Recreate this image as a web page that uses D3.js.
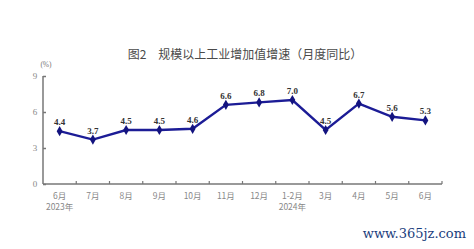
<!DOCTYPE html>
<html>
<head>
<meta charset="utf-8">
<script src="https://cdn.jsdelivr.net/npm/d3@7"></script>
<style>
body { margin:0; background:#fff; }
</style>
</head>
<body>
<svg id="chart" width="474" height="249"></svg>
<script>
// data
var months = ['6月','7月','8月','9月','10月','11月','12月','1-2月','3月','4月','5月','6月'];
var yearLabels = ['2023年','','','','','','','2024年','','','',''];
var growth = [4.4, 3.7, 4.5, 4.5, 4.6, 6.6, 6.8, 7.0, 4.5, 6.7, 5.6, 5.3];
var yTicks = [0, 3, 6, 9];

var svg = d3.select('#chart');
var plotLeft = 43, plotRight = 442, plotTop = 76, plotBottom = 184;

var x = d3.scaleBand().domain(d3.range(months.length)).range([plotLeft, plotRight]);
var y = d3.scaleLinear().domain([0, 9]).range([plotBottom, plotTop]);

// title
svg.append('text')
	.attr('x', 245).attr('y', 59)
	.attr('text-anchor', 'middle')
	.style('font-family', 'Noto Sans CJK SC')
	.style('font-size', '12px')
	.attr('fill', '#4a4a4a')
	.text('图2　规模以上工业增加值增速（月度同比）');

svg.append('text')
	.attr('x', 46).attr('y', 67)
	.attr('text-anchor', 'middle')
	.style('font-family', 'Liberation Serif')
	.style('font-size', '7.5px')
	.attr('fill', '#777')
	.text('(%)');

// y axis
var yAxis = svg.append('g')
	.attr('transform', 'translate(' + plotLeft + ',0)')
	.call(d3.axisRight(y).tickValues(yTicks).tickSize(3).tickFormat(''));
yAxis.select('.domain').attr('d', 'M0,' + plotTop + 'V' + plotBottom);
yAxis.selectAll('line, path').attr('stroke', '#777').attr('stroke-width', 1.5);

svg.selectAll('.ylab').data(yTicks).enter()
	.append('text')
	.attr('x', 35).attr('y', function(d){ return y(d) + 3; })
	.attr('text-anchor', 'middle')
	.style('font-family', 'Liberation Serif')
	.style('font-size', '9px')
	.attr('fill', '#888')
	.text(function(d){ return d; });

// x axis
var xEdges = d3.range(months.length + 1).map(function(i){ return plotLeft + i * x.step(); });
var xAxis = svg.append('g')
	.attr('transform', 'translate(0,' + plotBottom + ')');
xAxis.append('path')
	.attr('d', 'M' + plotLeft + ',0H' + plotRight)
	.attr('stroke', '#777').attr('stroke-width', 1.5);
xAxis.selectAll('line').data(xEdges.slice(1)).enter()
	.append('line')
	.attr('x1', function(d){ return d; }).attr('x2', function(d){ return d; })
	.attr('y1', 0).attr('y2', -3)
	.attr('stroke', '#777').attr('stroke-width', 1.2);

svg.selectAll('.xlab').data(months).enter()
	.append('text')
	.attr('x', function(d, i){ return x(i) + x.bandwidth() / 2; })
	.attr('y', 199)
	.attr('text-anchor', 'middle')
	.style('font-family', 'Noto Sans CJK SC')
	.style('font-size', '8.5px')
	.attr('fill', '#888')
	.text(function(d){ return d; });

svg.selectAll('.ylabyear').data(yearLabels).enter()
	.append('text')
	.attr('x', function(d, i){ return x(i) + x.bandwidth() / 2; })
	.attr('y', 210)
	.attr('text-anchor', 'middle')
	.style('font-family', 'Noto Sans CJK SC')
	.style('font-size', '8.5px')
	.attr('fill', '#888')
	.text(function(d){ return d; });

// line
var line = d3.line()
	.x(function(d, i){ return x(i) + x.bandwidth() / 2; })
	.y(function(d){ return y(d); });

svg.append('path')
	.datum(growth)
	.attr('d', line)
	.attr('fill', 'none')
	.attr('stroke', '#1c1c96')
	.attr('stroke-width', 2.4);

svg.selectAll('.pt').data(growth).enter()
	.append('path')
	.attr('d', d3.symbol().type(d3.symbolDiamond).size(30))
	.attr('transform', function(d, i){ return 'translate(' + (x(i) + x.bandwidth() / 2) + ',' + y(d) + ')'; })
	.attr('fill', '#13137f');

svg.selectAll('.val').data(growth).enter()
	.append('text')
	.attr('x', function(d, i){ return x(i) + x.bandwidth() / 2; })
	.attr('y', function(d){ return y(d) - 6; })
	.attr('text-anchor', 'middle')
	.style('font-family', 'Liberation Serif')
	.style('font-weight', 'bold')
	.style('font-size', '9px')
	.attr('fill', '#333')
	.text(function(d){ return d.toFixed(1); });

// watermark
svg.append('text')
	.attr('x', 466).attr('y', 238)
	.attr('text-anchor', 'end')
	.style('font-family', 'DejaVu Serif')
	.style('font-size', '13px')
	.attr('fill', '#1a3d7c')
	.text('www.365jz.com');
</script>
</body>
</html>
